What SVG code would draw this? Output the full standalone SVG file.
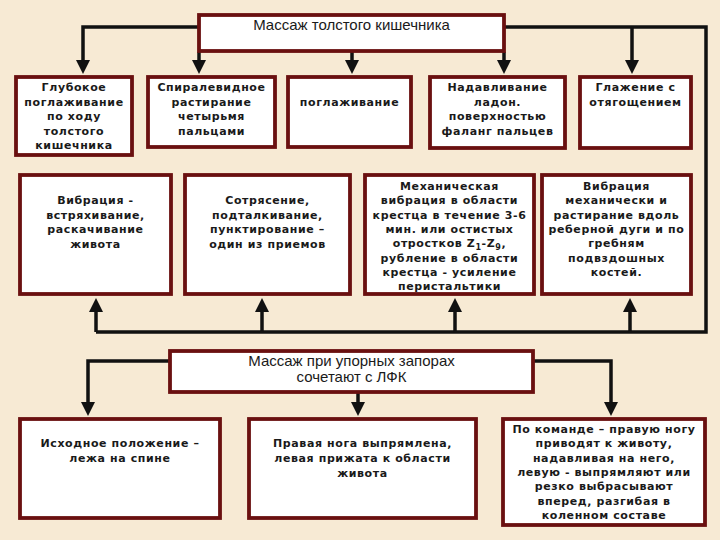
<svg xmlns="http://www.w3.org/2000/svg" width="720" height="540" viewBox="0 0 720 540">
<defs>
<style>
.box{fill:#ffffff;stroke:#6a1010;stroke-width:3.8}
.t{font-family:"DejaVu Sans","Noto Sans",sans-serif;font-size:11px;font-weight:bold;letter-spacing:0.6px;fill:#1a1a1a;text-anchor:middle}
.h{font-family:"Liberation Sans",Arial,sans-serif;font-size:15px;fill:#1a1a1a;text-anchor:middle}
.c{fill:none;stroke:#111111;stroke-width:3.5;stroke-linecap:butt;stroke-linejoin:miter}
</style>
<marker id="ar" markerUnits="userSpaceOnUse" markerWidth="14" markerHeight="14" refX="10" refY="7" orient="auto" viewBox="0 0 14 14">
<path d="M0,0 L14,7 L0,14 z" fill="#111111"/>
</marker>
</defs>
<rect x="0" y="0" width="720" height="540" fill="#f7ead4"/>

<g id="connectors">
<path class="c" d="M199,27 H83 V70" marker-end="url(#ar)"/>
<path class="c" d="M199,52 V70" marker-end="url(#ar)"/>
<path class="c" d="M352,52 V70" marker-end="url(#ar)"/>
<path class="c" d="M504,52 V70" marker-end="url(#ar)"/>
<path class="c" d="M504,27 H706 V332 H96"/>
<path class="c" d="M632,27 V70" marker-end="url(#ar)"/>
<path class="c" d="M96,332 V302" marker-end="url(#ar)"/>
<path class="c" d="M262,332 V302" marker-end="url(#ar)"/>
<path class="c" d="M455,332 V302" marker-end="url(#ar)"/>
<path class="c" d="M630,332 V302" marker-end="url(#ar)"/>
<path class="c" d="M170,361 H88 V412" marker-end="url(#ar)"/>
<path class="c" d="M358,392 V412" marker-end="url(#ar)"/>
<path class="c" d="M533,361 H611 V412" marker-end="url(#ar)"/>
</g>

<g id="top">
<rect class="box" x="199" y="15" width="305" height="36"/>
<text class="h" x="351.5" y="30">Массаж толстого кишечника</text>
</g>

<g id="n1">
<rect class="box" x="16" y="77" width="116" height="78"/>
<text class="t" x="74" y="91">Глубокое</text>
<text class="t" x="74" y="105.5">поглаживание</text>
<text class="t" x="74" y="120">по ходу</text>
<text class="t" x="74" y="134.5">толстого</text>
<text class="t" x="74" y="149">кишечника</text>
</g>

<g id="n2">
<rect class="box" x="148" y="77" width="127" height="70"/>
<text class="t" x="211.5" y="91">Спиралевидное</text>
<text class="t" x="211.5" y="105.5">растирание</text>
<text class="t" x="211.5" y="120">четырьмя</text>
<text class="t" x="211.5" y="134.5">пальцами</text>
</g>

<g id="n3">
<rect class="box" x="288" y="77" width="123" height="70"/>
<text class="t" x="349.5" y="105.5">поглаживание</text>
</g>

<g id="n4">
<rect class="box" x="430" y="77" width="135" height="71"/>
<text class="t" x="497.5" y="91">Надавливание</text>
<text class="t" x="497.5" y="105.5">ладон.</text>
<text class="t" x="497.5" y="120">поверхностью</text>
<text class="t" x="497.5" y="134.5">фаланг пальцев</text>
</g>

<g id="n5">
<rect class="box" x="580" y="77" width="111" height="71"/>
<text class="t" x="635.5" y="91">Глажение с</text>
<text class="t" x="635.5" y="105.5">отягощением</text>
</g>

<g id="n6">
<rect class="box" x="20" y="175" width="151" height="119"/>
<text class="t" x="95.5" y="204">Вибрация -</text>
<text class="t" x="95.5" y="218.5">встряхивание,</text>
<text class="t" x="95.5" y="233">раскачивание</text>
<text class="t" x="95.5" y="247.5">живота</text>
</g>

<g id="n7">
<rect class="box" x="185" y="175" width="165" height="119"/>
<text class="t" x="267.5" y="204">Сотрясение,</text>
<text class="t" x="267.5" y="218.5">подталкивание,</text>
<text class="t" x="267.5" y="233">пунктирование –</text>
<text class="t" x="267.5" y="247.5">один из приемов</text>
</g>

<g id="n8">
<rect class="box" x="365" y="175" width="169" height="119"/>
<text class="t" x="449.5" y="190">Механическая</text>
<text class="t" x="449.5" y="204.3">вибрация в области</text>
<text class="t" x="449.5" y="218.6">крестца в течение 3-6</text>
<text class="t" x="449.5" y="232.9">мин. или  остистых</text>
<text class="t" x="449.5" y="247.2">отростков  Z<tspan font-size="8px" dy="3">1</tspan><tspan dy="-3">-Z</tspan><tspan font-size="8px" dy="3">9</tspan><tspan dy="-3">,</tspan></text>
<text class="t" x="449.5" y="261.5">рубление в области</text>
<text class="t" x="449.5" y="275.8">крестца - усиление</text>
<text class="t" x="449.5" y="290.1">перистальтики</text>
</g>

<g id="n9">
<rect class="box" x="542" y="175" width="149" height="119"/>
<text class="t" x="616.5" y="190">Вибрация</text>
<text class="t" x="616.5" y="204.3">механически и</text>
<text class="t" x="616.5" y="218.6">растирание вдоль</text>
<text class="t" x="616.5" y="232.9">реберной дуги и по</text>
<text class="t" x="616.5" y="247.2">гребням</text>
<text class="t" x="616.5" y="261.5">подвздошных</text>
<text class="t" x="616.5" y="275.8">костей.</text>
</g>

<g id="mid">
<rect class="box" x="170" y="351" width="363" height="41"/>
<text class="h" x="351.5" y="366">Массаж при упорных запорах</text>
<text class="h" x="351.5" y="382">сочетают с ЛФК</text>
</g>

<g id="n10">
<rect class="box" x="20" y="419" width="200" height="99"/>
<text class="t" x="120" y="447">Исходное положение –</text>
<text class="t" x="120" y="462">лежа на спине</text>
</g>

<g id="n11">
<rect class="box" x="249" y="419" width="227" height="99"/>
<text class="t" x="362.5" y="447">Правая нога выпрямлена,</text>
<text class="t" x="362.5" y="462">левая прижата к области</text>
<text class="t" x="362.5" y="476.5">живота</text>
</g>

<g id="n12">
<rect class="box" x="503" y="419" width="202" height="106"/>
<text class="t" x="604" y="433">По команде – правую ногу</text>
<text class="t" x="604" y="447.3">приводят к животу,</text>
<text class="t" x="604" y="461.6">надавливая на него,</text>
<text class="t" x="604" y="475.9">левую - выпрямляют или</text>
<text class="t" x="604" y="490.2">резко выбрасывают</text>
<text class="t" x="604" y="504.5">вперед, разгибая в</text>
<text class="t" x="604" y="518.8">коленном составе</text>
</g>
</svg>
